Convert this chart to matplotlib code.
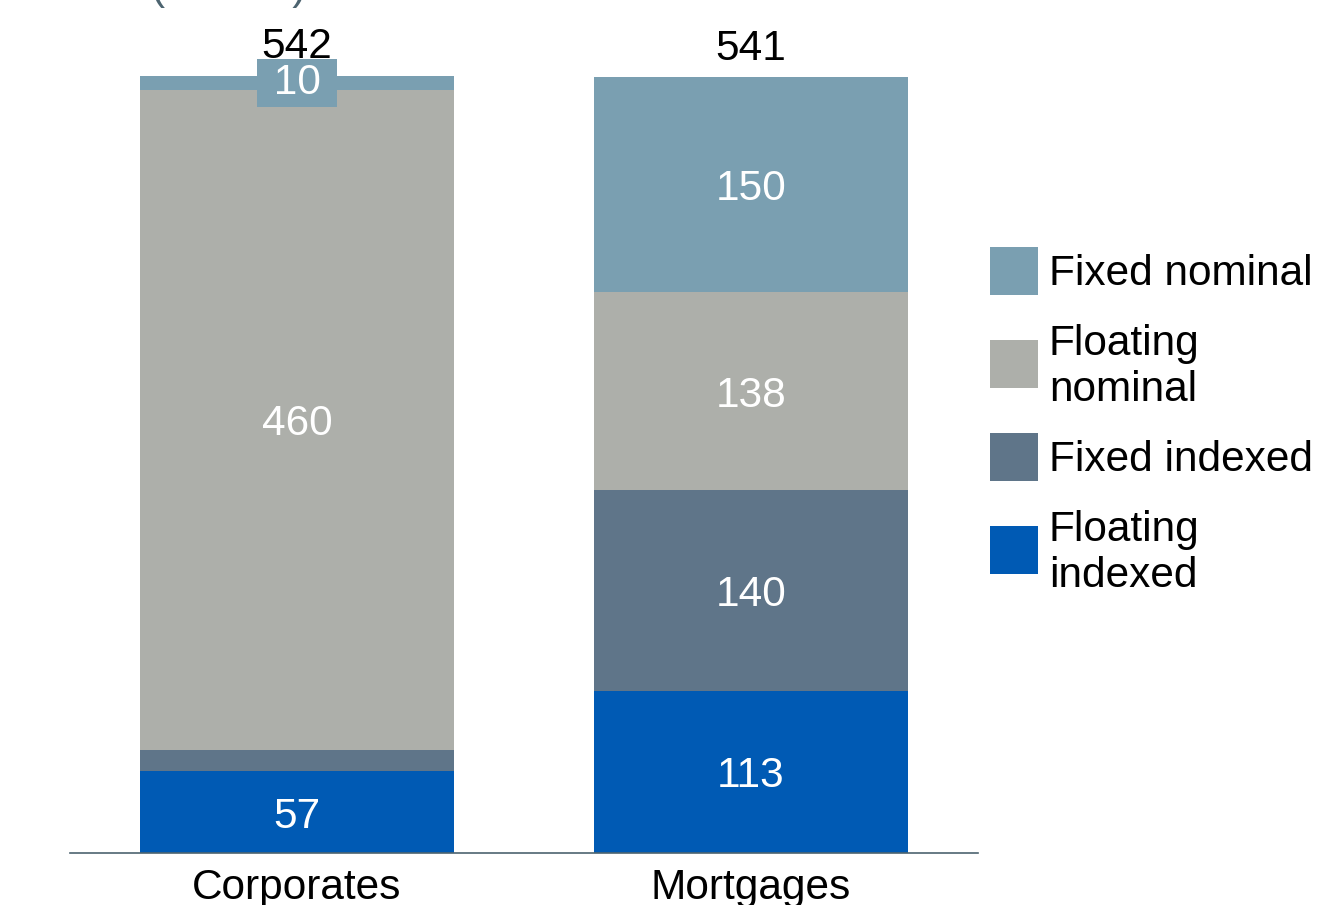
import numpy as np
import matplotlib.pyplot as plt
from matplotlib.patches import Rectangle

plt.rcParams['font.family'] = ['Liberation Sans', 'DejaVu Sans']

# loan stock by interest type, ISK bn
categories = ['Corporates', 'Mortgages']
series = ['Floating indexed', 'Fixed indexed', 'Floating nominal', 'Fixed nominal']
floating_indexed = [57, 113]
fixed_indexed = [15, 140]
floating_nominal = [460, 138]
fixed_nominal = [10, 150]
totals = [542, 541]
unit_label = '(ISK bn)'

colors = ['#005ab4', '#5f7589', '#adafaa', '#7a9fb1']
values = [floating_indexed, fixed_indexed, floating_nominal, fixed_nominal]
FS = 30.5

fig = plt.figure(figsize=(13.22, 9.05), dpi=100)
ax = fig.add_axes([70 / 1322, 52 / 905, 908 / 1322, 853 / 905])

x = np.arange(len(categories))
width = 0.69
bottom = np.zeros(len(categories))
for name, vals, col in zip(series, values, colors):
    vals = np.array(vals, dtype=float)
    ax.bar(x, vals, width, bottom=bottom, color=col, label=name)
    for xi, b, v in zip(x, bottom, vals):
        yc = b + v / 2
        if v >= 20:
            ax.text(xi, yc, f'{v:.0f}', ha='center', va='center_baseline',
                    color='white', fontsize=FS)
        elif name == series[-1]:
            # thin top slice: label sits on a small box of the same colour
            ax.text(xi, yc, f' {v:.0f} ', ha='center', va='center',
                    color='white', fontsize=FS,
                    bbox=dict(boxstyle='square,pad=0.1', fc=col, ec='none'))
    bottom += vals

for xi, t, top in zip(x, totals, bottom):
    ax.annotate(f'{t}', (xi, top), xytext=(0, 6), textcoords='offset points',
                ha='center', va='bottom', fontsize=FS, color='black')

ax.set_xlim(-0.5, 1.5)
ax.set_ylim(0, 594.8)
ax.set_xticks(x)
ax.set_xticklabels(categories, fontsize=FS)
ax.tick_params(axis='x', length=0, pad=11)
ax.set_yticks([])
for s in ['top', 'right', 'left']:
    ax.spines[s].set_visible(False)
ax.spines['bottom'].set_color('#4d6470')
ax.spines['bottom'].set_linewidth(1.2)

# legend drawn by hand so every entry gets the same row height
leg_items = [('Fixed nominal', colors[3]), ('Floating\nnominal', colors[2]),
             ('Fixed indexed', colors[1]), ('Floating\nindexed', colors[0])]
W, H = 1322, 905
for i, (lab, col) in enumerate(leg_items):
    yc = 271 + 93 * i
    fig.patches.append(Rectangle((990 / W, 1 - (yc + 24) / H), 48 / W, 48 / H,
                                 transform=fig.transFigure, fc=col, ec='none'))
    fig.text(1049 / W, 1 - (yc + 3) / H, lab, ha='left', va='center',
             fontsize=FS, linespacing=1.2)

fig.text(229 / W, 1 + 1 / H, unit_label, ha='center', va='baseline',
         fontsize=FS, color='#4d6470')

fig.savefig('out.png', dpi=100)
